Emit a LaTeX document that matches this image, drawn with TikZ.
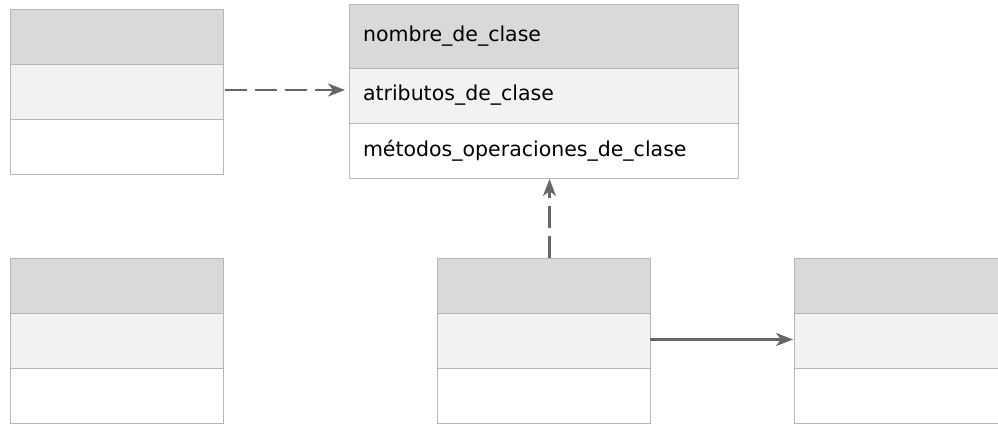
\documentclass[tikz,border=0pt]{standalone}
\usepackage{fontspec}
\setmainfont{DejaVu Sans}
\usetikzlibrary{arrows.meta, positioning}
\definecolor{hdrgray}{RGB}{217,217,217}
\definecolor{atrgray}{RGB}{242,242,242}
\definecolor{cellline}{RGB}{182,182,182}
\definecolor{linkgray}{RGB}{102,102,102}

\tikzset{
  cell/.style={draw=cellline, line width=1pt, outer sep=0pt, minimum height=55pt,
    inner xsep=14pt, inner ysep=0pt, text width=#1, align=left,
    font=\fontsize{20.5}{24}\selectfont},
  hdrcell/.style={cell=#1, fill=hdrgray},
  atrcell/.style={cell=#1, fill=atrgray},
  mtdcell/.style={cell=#1, fill=white},
  dep/.style={-{Stealth[length=17pt, width=13pt, inset=5pt]}, linkgray,
    line width=2.4pt, dash pattern=on 22pt off 8pt},
  assoc/.style={-{Stealth[length=17pt, width=13pt, inset=5pt]}, linkgray,
    line width=2.4pt},
}

\begin{document}
\begin{tikzpicture}[x=1pt, y=-1pt]
  \clip (0,0) rectangle (998,423);

  % clase con texto
  \node[hdrcell=361pt, minimum height=64pt, anchor=north west] (cB-hdr) at (349,4) {nombre\_de\_clase};
  \node[atrcell=361pt, below=0pt of cB-hdr] (cB-atr) {atributos\_de\_clase};
  \node[mtdcell=361pt, below=0pt of cB-atr] (cB-mtd) {métodos\_operaciones\_de\_clase};

  % clases vacias
  \foreach \cname/\cx/\cy in {cA/10/9, cC/10/258, cD/437/258, cE/794/258} {
    \node[hdrcell=185pt, anchor=north west] (\cname-hdr) at (\cx,\cy) {};
    \node[atrcell=185pt, below=0pt of \cname-hdr] (\cname-atr) {};
    \node[mtdcell=185pt, below=0pt of \cname-atr] (\cname-mtd) {};
  }

  % relaciones
  \draw[dep, shorten <=2pt, shorten >=4pt] ([yshift=1.5pt]cA-atr.east) -- ([yshift=1.5pt]cA-atr.east -| cB-atr.west);
  \draw[dep, shorten >=1pt] ([xshift=6pt]cD-hdr.north) -- ([xshift=6pt]cD-hdr.north |- cB-mtd.south);
  \draw[assoc, shorten >=1pt] ([yshift=1pt]cD-atr.east) -- ([yshift=1pt]cD-atr.east -| cE-atr.west);
\end{tikzpicture}
\end{document}
